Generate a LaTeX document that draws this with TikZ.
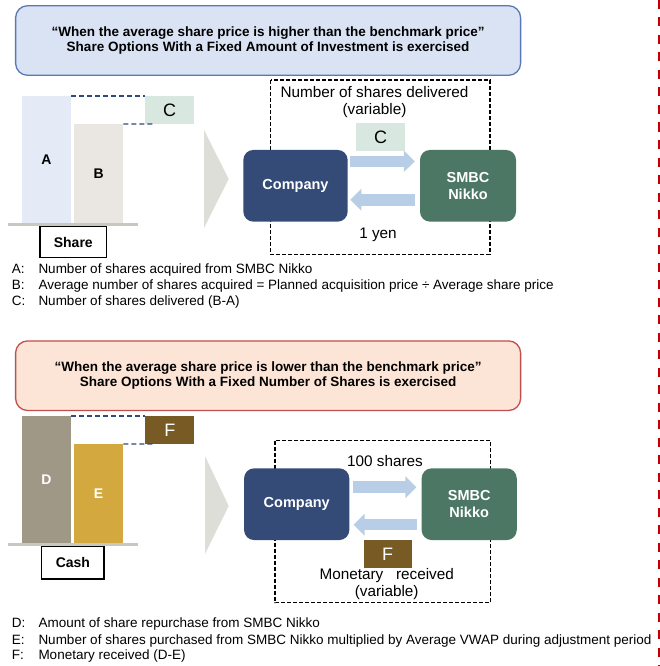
\documentclass[tikz,border=0pt]{standalone}
\usepackage{fontspec}
\setmainfont{Liberation Sans}
\usetikzlibrary{arrows.meta,calc}

\definecolor{bannerblue}{HTML}{DAE3F3}
\definecolor{bannerblueline}{HTML}{5A78B4}
\definecolor{bannerpeach}{HTML}{FCE4D6}
\definecolor{bannerred}{HTML}{C0504D}
\definecolor{barA}{HTML}{E4EBF6}
\definecolor{barB}{HTML}{EAE6E1}
\definecolor{tagC}{HTML}{D9E7E1}
\definecolor{barD}{HTML}{9F9886}
\definecolor{barE}{HTML}{D3A83E}
\definecolor{tagF}{HTML}{785A24}
\definecolor{basegray}{HTML}{C9C7C0}
\definecolor{chevron}{HTML}{DEDED9}
\definecolor{companyblue}{HTML}{344B77}
\definecolor{smbcgreen}{HTML}{4B7764}
\definecolor{flowblue}{HTML}{B8CDE6}
\definecolor{guideblue}{HTML}{2F4A80}
\definecolor{splitred}{HTML}{C00000}

\newcommand{\bannerfont}{\fontsize{13.5}{15.6}\selectfont\bfseries}
\newcommand{\barfont}{\fontsize{14}{16}\selectfont\bfseries}
\newcommand{\tagfont}{\fontsize{18}{20}\selectfont}
\newcommand{\partyfont}{\fontsize{14.5}{16.7}\selectfont\bfseries}
\newcommand{\notefont}{\fontsize{15.3}{17}\selectfont}
\newcommand{\legendfont}{\fontsize{13.5}{15}\selectfont}

\tikzset{banner/.style = {rounded corners=12pt, line width=1.3pt, minimum width=505pt, minimum height=69.6pt, align=center, font=\bannerfont}}
\tikzset{bar/.style = {anchor=north west, inner sep=0pt, font=\barfont}}
\tikzset{tag/.style = {anchor=north west, inner sep=0pt, font=\tagfont}}
\tikzset{party/.style = {rounded corners=10pt, text=white, align=center, minimum height=71.7pt, font=\partyfont}}
\tikzset{caption/.style = {draw=black, line width=1.2pt, fill=white, inner sep=0pt, font=\barfont}}
\tikzset{guide/.style = {draw=guideblue, line width=1.2pt, dash pattern=on 5pt off 3pt}}
\tikzset{frame/.style = {draw=black, line width=1.3pt, dash pattern=on 4pt off 2pt}}
\tikzset{flow/.style = {draw=flowblue, line width=11.5pt, -{Triangle[length=11pt,width=21pt]}}}
\tikzset{note/.style = {inner sep=0pt, align=center, font=\notefont}}
\tikzset{legend/.style = {anchor=base west, inner sep=0pt, font=\legendfont}}

\begin{document}
\begin{tikzpicture}[x=1pt, y=-1pt]
    \useasboundingbox (0,0) rectangle (660,666);

    % Upper case: average price above benchmark
    \node[banner, draw=bannerblueline, fill=bannerblue] (bannerUp) at (268.1,40.5)
        {“When the average share price is higher than the benchmark price”\\Share Options With a Fixed Amount of Investment is exercised};

    \node[bar, fill=barA, minimum width=48.8pt, minimum height=127.3pt] (A) at (21.9,96) {A};
    \node[bar, fill=barB, minimum width=48.9pt, minimum height=99.3pt] (B) at (74,124) {B};
    \node[tag, fill=tagC, minimum width=48.4pt, minimum height=27.7pt] (C) at (145.2,96) {C};
    \draw[guide] (A.north east) -- (C.north west);
    \draw[guide] (B.north east) -- ([xshift=10pt]C.south west);
    \draw[basegray, line width=3.3pt] (8.4,224.3) -- (138,224.3);
    \node[caption, minimum width=66.7pt, minimum height=30.6pt] (share) at (73.3,242) {Share};

    \fill[chevron] (204,130) -- (228.7,179) -- (204,228) -- cycle;

    \draw[frame] (270.7,80) rectangle (490,254.3);
    \node[note] (delivered) at (374.5,102) {Number of shares delivered\\(variable)};
    \node[tag, fill=tagC, minimum width=49pt, minimum height=28pt] (C2) at (356,122.7) {C};
    \node[party, fill=companyblue, minimum width=104.3pt] (company) at (295.5,185.8) {Company};
    \node[party, fill=smbcgreen, minimum width=96pt] (smbc) at (468,185.8) {SMBC\\Nikko};
    \draw[flow, shorten <=1.7pt, shorten >=5pt] ([yshift=24.5pt]company.east) -- ([yshift=24.5pt]company.east -| smbc.west);
    \draw[flow, shorten <=5pt, shorten >=2.4pt] ([yshift=-14pt]smbc.west) -- ([yshift=-14pt]smbc.west -| company.east);
    \node[note] (yen) at (378,235.3) {1 yen};

    \node[legend] (keyA) at (11.7,273.8) {A:};
    \node[legend] (descA) at (38.3,273.8) {Number of shares acquired from SMBC Nikko};
    \node[legend] (keyB) at (11.7,289.8) {B:};
    \node[legend] (descB) at (38.3,289.8) {Average number of shares acquired = Planned acquisition price ÷ Average share price};
    \node[legend] (keyC) at (11.7,305.3) {C:};
    \node[legend] (descC) at (38.3,305.3) {Number of shares delivered (B-A)};

    % Lower case: average price below benchmark
    \node[banner, draw=bannerred, fill=bannerpeach] (bannerDown) at (268.1,375.7)
        {“When the average share price is lower than the benchmark price”\\Share Options With a Fixed Number of Shares is exercised};

    \node[bar, fill=barD, text=white, minimum width=48.8pt, minimum height=127.3pt] (D) at (21.9,416) {D};
    \node[bar, fill=barE, text=white, minimum width=48.9pt, minimum height=99.3pt] (E) at (74,444) {E};
    \node[tag, fill=tagF, text=white, minimum width=48.8pt, minimum height=27.7pt] (F) at (145.2,416) {F};
    \draw[guide] (D.north east) -- (F.north west);
    \draw[guide] (E.north east) -- ([xshift=10pt]F.south west);
    \draw[basegray, line width=3.3pt] (8.4,544.3) -- (138,544.3);
    \node[caption, minimum width=62.3pt, minimum height=32.3pt] (cash) at (72.9,562.9) {Cash};

    \fill[chevron] (205,456) -- (228.7,506) -- (205,554) -- cycle;

    \draw[frame] (275,440.7) rectangle (490.7,602.7);
    \node[note] (hundred) at (385,461) {100 shares};
    \node[party, fill=companyblue, minimum width=105.2pt, minimum height=71.7pt] (company2) at (296.7,504.2) {Company};
    \node[party, fill=smbcgreen, minimum width=95.1pt, minimum height=71.7pt] (smbc2) at (469.2,504.2) {SMBC\\Nikko};
    \draw[flow, shorten <=3.7pt, shorten >=5pt] ([yshift=17pt]company2.east) -- ([yshift=17pt]company2.east -| smbc2.west);
    \draw[flow, shorten <=4.7pt, shorten >=4pt] ([yshift=-20.5pt]smbc2.west) -- ([yshift=-20.5pt]smbc2.west -| company2.east);
    \node[tag, fill=tagF, text=white, minimum width=48.4pt, minimum height=27.7pt] (F2) at (363.3,540) {F};
    \node[note] (monetary) at (386.7,584.5) {Monetary\ \ \ received\\(variable)};

    \node[legend] (keyD) at (11.7,627.5) {D:};
    \node[legend] (descD) at (38.3,627.5) {Amount of share repurchase from SMBC Nikko};
    \node[legend] (keyE) at (11.7,644.1) {E:};
    \node[legend] (descE) at (38.3,644.1) {Number of shares purchased from SMBC Nikko multiplied by Average VWAP during adjustment period};
    \node[legend] (keyF) at (11.7,659.8) {F:};
    \node[legend] (descF) at (38.3,659.8) {Monetary received (D-E)};

    % Red split line on the right
    \draw[splitred, line width=2.2pt, dash pattern=on 9pt off 8.5pt] (659,0) -- (659,666);
\end{tikzpicture}
\end{document}
